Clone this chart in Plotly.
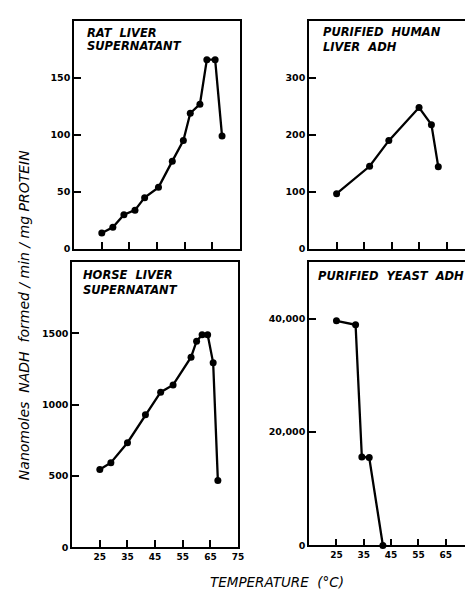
import plotly.graph_objects as go

# ---- data ----
rat_temp = [25, 29, 33, 37, 40.5, 45.5, 50.5, 54.5, 57, 60.5, 63, 66, 68.5]
rat_nadh = [14, 19, 30, 34, 45, 54, 77, 95, 119, 127, 166, 166, 99]

human_temp = [25, 37, 44, 55, 59.5, 62]
human_nadh = [97, 145, 190, 248, 218, 144]

horse_temp = [25, 29, 35, 41.5, 47, 51.5, 58, 60, 62, 64, 66, 67.7]
horse_nadh = [545, 593, 733, 929, 1087, 1138, 1332, 1444, 1490, 1490, 1293, 469]

yeast_temp = [25, 32, 34.3, 37, 42]
yeast_nadh = [39600, 38900, 15600, 15500, 0]

x_ticks = [25, 35, 45, 55, 65, 75]
x_tick_labels = ["25", "35", "45", "55", "65", "75"]

rat_yticks = [0, 50, 100, 150]
human_yticks = [0, 100, 200, 300]
horse_yticks = [0, 500, 1000, 1500]
yeast_yticks = [0, 20000, 40000]
yeast_ytick_labels = ["0", "20,000", "40,000"]

panel_title_lines = [
    ["RAT  LIVER", "SUPERNATANT"],
    ["PURIFIED  HUMAN", "LIVER  ADH"],
    ["HORSE  LIVER", "SUPERNATANT"],
    ["PURIFIED  YEAST  ADH"],
]
y_title = "Nanomoles  NADH  formed / min / mg PROTEIN"
x_title = "TEMPERATURE  (°C)"

W, H = 473, 590
def px_x(a, b):
    return [a / W, b / W]
def px_y(top, bottom):
    return [(H - bottom) / H, (H - top) / H]

ytick_font = dict(family="DejaVu Sans, sans-serif", size=9.5, color="black", weight="bold")
xtick_font = dict(family="DejaVu Sans, sans-serif", size=9, color="black", weight="bold")

fig = go.Figure()

series = [
    (rat_temp, rat_nadh, "x", "y"),
    (human_temp, human_nadh, "x2", "y2"),
    (horse_temp, horse_nadh, "x3", "y3"),
    (yeast_temp, yeast_nadh, "x4", "y4"),
]
for xs, ys, xa, ya in series:
    fig.add_trace(go.Scatter(
        x=xs, y=ys, xaxis=xa, yaxis=ya, mode="lines+markers",
        line=dict(color="black", width=2.3),
        marker=dict(color="black", size=7, symbol="circle"),
        cliponaxis=False, showlegend=False, hoverinfo="x+y"))

def xaxis(domain, anchor, show_labels):
    return dict(domain=domain, anchor=anchor, range=[15, 75],
                tickmode="array", tickvals=x_ticks, ticktext=x_tick_labels,
                showticklabels=show_labels, ticks="inside", ticklen=7,
                tickwidth=1.5, tickcolor="black",
                showline=True, linecolor="black", linewidth=1.8, mirror=True,
                showgrid=False, zeroline=False, tickfont=xtick_font)

def yaxis(domain, anchor, rng, tv, tt=None):
    d = dict(domain=domain, anchor=anchor, range=rng,
             tickmode="array", tickvals=tv,
             ticks="inside", ticklen=7, tickwidth=1.5, tickcolor="black",
             showline=True, linecolor="black", linewidth=1.8, mirror=True,
             showgrid=False, zeroline=False, tickfont=ytick_font)
    if tt is not None:
        d["ticktext"] = tt
    return d

left_top = px_x(67, 235)
left_bot = px_x(65, 233)
right_top = px_x(305, 472)
right_bot = px_x(305, 471)
top_y = px_y(13, 243)
bot_y_left = px_y(256, 544)
bot_y_right = px_y(256, 542)

title_font = dict(family="DejaVu Sans, sans-serif", size=11.5, color="black",
                  style="italic", weight="bold")
annotations = []
title_pos = [(78, [25.5, 38.5]), (317, [24.5, 39]), (74, [269.5, 284.5]), (312, [270])]
for (tx, ys), lines in zip(title_pos, panel_title_lines):
    for ty, line in zip(ys, lines):
        annotations.append(dict(
            text=line, xref="paper", yref="paper", x=tx / W, y=(H - ty) / H,
            xanchor="left", yanchor="middle", showarrow=False, font=title_font))
annotations.append(dict(
    text=y_title, xref="paper", yref="paper", x=17 / W, y=(H - 310) / H,
    xanchor="center", yanchor="middle", textangle=-90, showarrow=False,
    font=dict(family="DejaVu Sans, sans-serif", size=14, color="black", style="italic")))
annotations.append(dict(
    text=x_title, xref="paper", yref="paper", x=272 / W, y=(H - 579) / H,
    xanchor="center", yanchor="middle", showarrow=False,
    font=dict(family="DejaVu Sans, sans-serif", size=13.5, color="black", style="italic")))

fig.update_layout(
    width=W, height=H, margin=dict(l=0, r=0, t=0, b=0),
    paper_bgcolor="white", plot_bgcolor="white",
    xaxis=xaxis(left_top, "y", False),
    yaxis=yaxis(top_y, "x", [0, 200], rat_yticks),
    xaxis2=xaxis(right_top, "y2", False),
    yaxis2=yaxis(top_y, "x2", [0, 400], human_yticks),
    xaxis3=xaxis(left_bot, "y3", True),
    yaxis3=yaxis(bot_y_left, "x3", [0, 2000], horse_yticks),
    xaxis4=xaxis(right_bot, "y4", True),
    yaxis4=yaxis(bot_y_right, "x4", [0, 50000], yeast_yticks, yeast_ytick_labels),
    annotations=annotations,
)

fig.write_html("out.html")
